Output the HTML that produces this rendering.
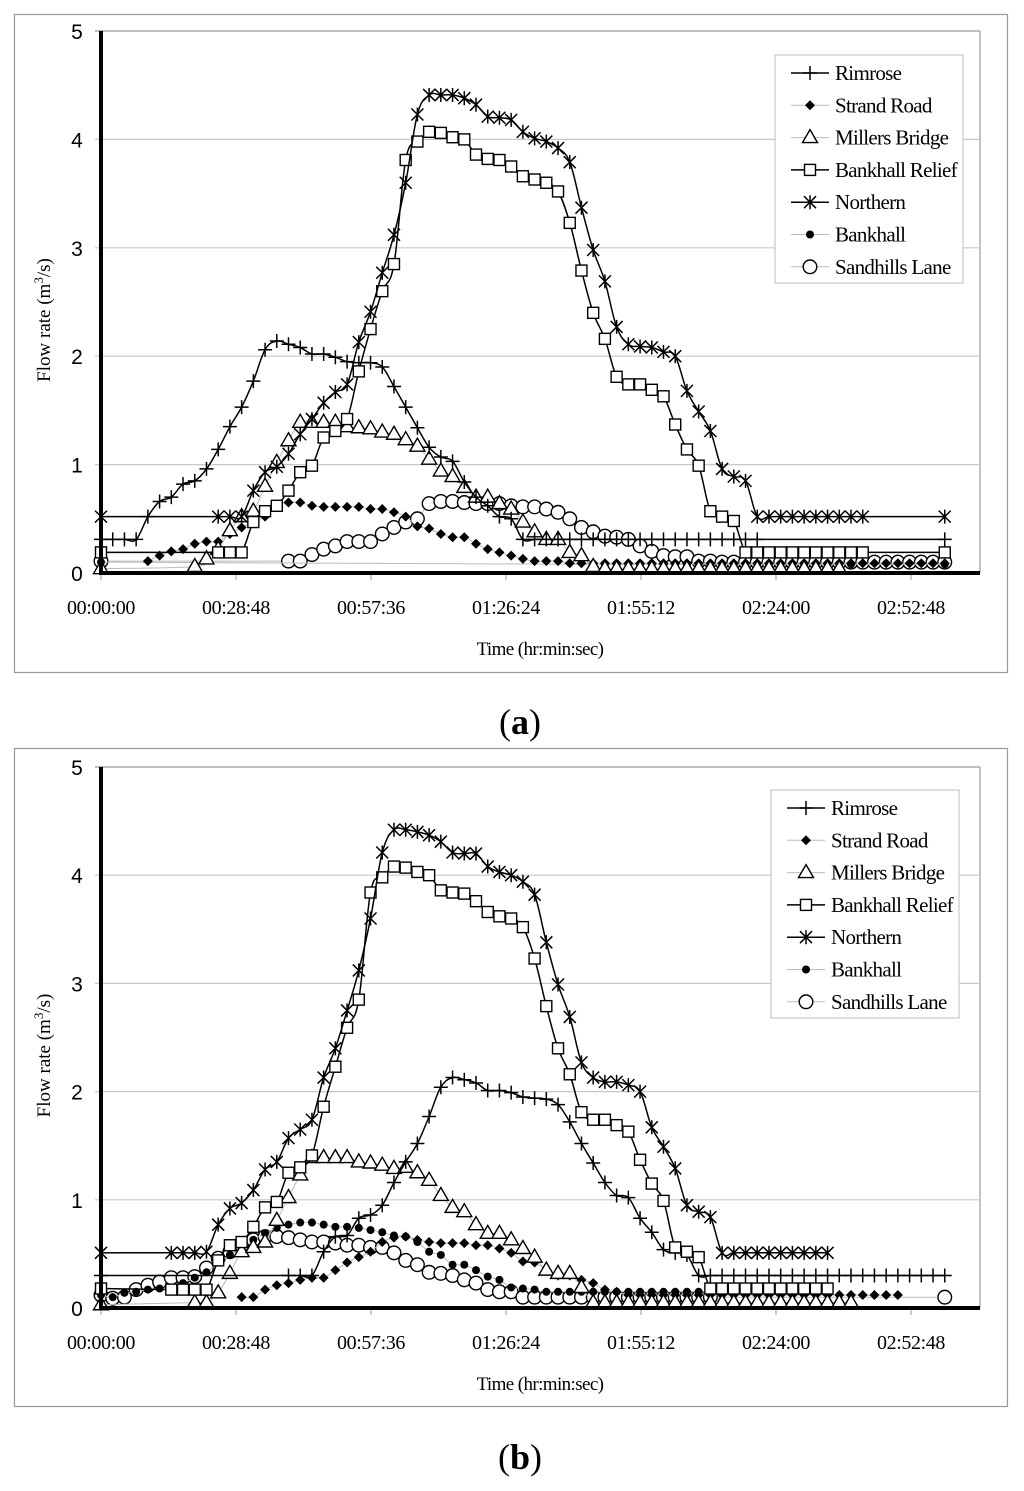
<!DOCTYPE html>
<html><head><meta charset="utf-8"><style>
html,body{margin:0;padding:0;background:#fff;}
svg{display:block;}
</style></head><body>
<svg id="fig" xmlns="http://www.w3.org/2000/svg" width="1024" height="1491" viewBox="0 0 1024 1491"></svg>
<script>
// Time axis: each step = 2.5 minutes. Pairs are [step, flow rate m3/s]
const timeTickLabels = ["00:00:00","00:28:48","00:57:36","01:26:24","01:55:12","02:24:00","02:52:48"];
const timeTickMinutes = [0, 28.8, 57.6, 86.4, 115.2, 144, 172.8];
const yTickLabels = ["0","1","2","3","4","5"];
const yTickValues = [0,1,2,3,4,5];
const seriesNames = ["Rimrose","Strand Road","Millers Bridge","Bankhall Relief","Northern","Bankhall","Sandhills Lane"];
const stepMinutes = 2.5;

// ---- Panel (a) ----
const rimroseA = [[0,.31],[1,.31],[2,.31],[3,.31],[4,.52],[5,.66],[6,.70],[7,.82],[8,.85],[9,.96],[10,1.14],[11,1.35],[12,1.53],[13,1.77],[14,2.06],[15,2.14],[16,2.11],[17,2.08],[18,2.02],[19,2.02],[20,1.99],[21,1.95],[22,1.94],[23,1.94],[24,1.90],[25,1.72],[26,1.53],[27,1.34],[28,1.16],[29,1.07],[30,1.03],[31,.84],[32,.70],[33,.62],[34,.52],[35,.50],[36,.31],[37,.31],[38,.31],[39,.31],[40,.31],[41,.31],[42,.31],[43,.31],[44,.31],[45,.31],[46,.31],[47,.31],[48,.31],[49,.31],[50,.31],[51,.31],[52,.31],[53,.31],[54,.31],[55,.31],[56,.31],[72,.31]];
const strandA = [[4,.11],[5,.16],[6,.20],[7,.22],[8,.27],[9,.29],[10,.29],[11,.36],[12,.42],[13,.47],[14,.52],[15,.62],[16,.65],[17,.65],[18,.62],[19,.61],[20,.61],[21,.61],[22,.61],[23,.59],[24,.59],[25,.56],[26,.52],[27,.43],[28,.41],[29,.36],[30,.33],[31,.33],[32,.27],[33,.22],[34,.19],[35,.16],[36,.13],[37,.11],[38,.11],[39,.11],[40,.09],[41,.09],[42,.09],[43,.09],[44,.09],[45,.09],[46,.09],[47,.09],[48,.09],[49,.09],[50,.09],[51,.09],[52,.09],[53,.09],[54,.09],[55,.09],[56,.09],[57,.09],[58,.09],[59,.09],[60,.09],[61,.09],[62,.09],[63,.09],[64,.09],[65,.09],[66,.09],[67,.09],[68,.09],[69,.09],[70,.09],[71,.09],[72,.09]];
const millersA = [[0,.04],[8,.06],[9,.13],[10,.22],[11,.39],[12,.52],[13,.57],[14,.80],[15,1.02],[16,1.22],[17,1.39],[18,1.39],[19,1.39],[20,1.39],[21,1.35],[22,1.34],[23,1.33],[24,1.30],[25,1.28],[26,1.23],[27,1.17],[28,1.05],[29,.94],[30,.89],[31,.79],[32,.70],[33,.70],[34,.64],[35,.59],[36,.47],[37,.38],[38,.31],[39,.31],[40,.19],[41,.16],[42,.06],[43,.04],[44,.04],[45,.04],[46,.04],[47,.04],[48,.04],[49,.04],[50,.04],[51,.04],[52,.04],[53,.04],[54,.04],[55,.04],[56,.04],[57,.04],[58,.04],[59,.04],[60,.04],[61,.04],[62,.04],[63,.04]];
const reliefA = [[0,.19],[10,.19],[11,.19],[12,.19],[13,.47],[14,.57],[15,.62],[16,.76],[17,.93],[18,.99],[19,1.25],[20,1.31],[21,1.42],[22,1.86],[23,2.25],[24,2.60],[25,2.85],[26,3.81],[27,3.98],[28,4.07],[29,4.06],[30,4.02],[31,4.00],[32,3.86],[33,3.82],[34,3.81],[35,3.75],[36,3.66],[37,3.63],[38,3.60],[39,3.52],[40,3.23],[41,2.79],[42,2.40],[43,2.16],[44,1.81],[45,1.74],[46,1.74],[47,1.69],[48,1.63],[49,1.37],[50,1.14],[51,.99],[52,.57],[53,.52],[54,.48],[55,.19],[56,.19],[57,.19],[58,.19],[59,.19],[60,.19],[61,.19],[62,.19],[63,.19],[64,.19],[65,.19],[72,.19]];
const northernA = [[0,.52],[10,.52],[11,.52],[12,.52],[13,.76],[14,.93],[15,.98],[16,1.10],[17,1.28],[18,1.42],[19,1.57],[20,1.67],[21,1.74],[22,2.13],[23,2.41],[24,2.77],[25,3.12],[26,3.60],[27,4.23],[28,4.41],[29,4.41],[30,4.41],[31,4.38],[32,4.32],[33,4.21],[34,4.20],[35,4.18],[36,4.07],[37,4.01],[38,3.98],[39,3.92],[40,3.79],[41,3.37],[42,2.98],[43,2.69],[44,2.27],[45,2.11],[46,2.09],[47,2.08],[48,2.04],[49,2.00],[50,1.68],[51,1.49],[52,1.31],[53,.96],[54,.89],[55,.85],[56,.52],[57,.52],[58,.52],[59,.52],[60,.52],[61,.52],[62,.52],[63,.52],[64,.52],[65,.52],[72,.52]];
const bankhallA = [[0,.10],[42,.08],[43,.08],[44,.08],[45,.08],[46,.08],[47,.08],[48,.08],[49,.08],[50,.08],[51,.08],[52,.08],[53,.08],[54,.08],[55,.08],[56,.08],[57,.08],[58,.08],[59,.08],[60,.08],[61,.08],[62,.08],[63,.08],[64,.08],[72,.08]];
const sandhillsA = [[0,.11],[16,.11],[17,.11],[18,.17],[19,.22],[20,.25],[21,.29],[22,.29],[23,.29],[24,.36],[25,.42],[26,.47],[27,.50],[28,.64],[29,.66],[30,.66],[31,.65],[32,.64],[33,.64],[34,.64],[35,.62],[36,.61],[37,.61],[38,.59],[39,.56],[40,.50],[41,.42],[42,.38],[43,.34],[44,.33],[45,.31],[46,.25],[47,.20],[48,.16],[49,.15],[50,.15],[51,.11],[52,.11],[53,.10],[54,.10],[55,.10],[56,.10],[57,.10],[58,.10],[59,.10],[60,.10],[61,.10],[62,.10],[63,.10],[64,.10],[65,.10],[66,.10],[67,.10],[68,.10],[69,.10],[70,.10],[71,.10],[72,.10]];

// ---- Panel (b) ----
const rimroseB = [[0,.30],[16,.30],[17,.30],[18,.30],[19,.52],[20,.66],[21,.67],[22,.83],[23,.86],[24,.95],[25,1.16],[26,1.35],[27,1.52],[28,1.77],[29,2.04],[30,2.13],[31,2.11],[32,2.08],[33,2.01],[34,2.01],[35,1.99],[36,1.95],[37,1.94],[38,1.93],[39,1.88],[40,1.72],[41,1.52],[42,1.34],[43,1.16],[44,1.04],[45,1.02],[46,.83],[47,.70],[48,.54],[49,.51],[50,.49],[51,.30],[52,.30],[53,.30],[54,.30],[55,.30],[56,.30],[57,.30],[58,.30],[59,.30],[60,.30],[61,.30],[62,.30],[63,.30],[64,.30],[65,.30],[66,.30],[67,.30],[68,.30],[69,.30],[70,.30],[71,.30],[72,.30]];
const strandB = [[12,.10],[13,.10],[14,.17],[15,.21],[16,.23],[17,.26],[18,.28],[19,.28],[20,.35],[21,.42],[22,.47],[23,.52],[24,.61],[25,.65],[26,.66],[27,.63],[28,.61],[29,.60],[30,.60],[31,.60],[32,.58],[33,.58],[34,.55],[35,.51],[36,.43],[37,.42],[38,.35],[39,.30],[40,.30],[41,.26],[42,.23],[43,.17],[44,.15],[45,.12],[46,.12],[47,.12],[48,.12],[49,.12],[50,.12],[51,.12],[52,.12],[53,.12],[54,.12],[55,.12],[56,.12],[57,.12],[58,.12],[59,.12],[60,.12],[61,.12],[62,.12],[63,.12],[64,.12],[65,.12],[66,.12],[67,.12],[68,.12]];
const millersB = [[0,.03],[8,.05],[9,.05],[10,.14],[11,.32],[12,.52],[13,.56],[14,.61],[15,.81],[16,1.02],[17,1.23],[18,1.39],[19,1.39],[20,1.39],[21,1.39],[22,1.35],[23,1.34],[24,1.32],[25,1.29],[26,1.30],[27,1.25],[28,1.18],[29,1.04],[30,.93],[31,.89],[32,.77],[33,.69],[34,.69],[35,.63],[36,.55],[37,.47],[38,.35],[39,.32],[40,.32],[41,.19],[42,.05],[43,.05],[44,.05],[45,.05],[46,.05],[47,.05],[48,.05],[49,.05],[50,.05],[51,.05],[52,.05],[53,.05],[54,.05],[55,.05],[56,.05],[57,.05],[58,.05],[59,.05],[60,.05],[61,.05],[62,.05],[63,.05],[64,.05]];
const reliefB = [[0,.18],[6,.17],[7,.17],[8,.17],[9,.17],[10,.44],[11,.58],[12,.61],[13,.75],[14,.93],[15,.98],[16,1.25],[17,1.30],[18,1.41],[19,1.86],[20,2.23],[21,2.59],[22,2.85],[23,3.84],[24,3.98],[25,4.08],[26,4.07],[27,4.03],[28,4.00],[29,3.86],[30,3.84],[31,3.83],[32,3.76],[33,3.66],[34,3.62],[35,3.60],[36,3.52],[37,3.23],[38,2.79],[39,2.40],[40,2.16],[41,1.81],[42,1.74],[43,1.74],[44,1.69],[45,1.63],[46,1.37],[47,1.15],[48,.99],[49,.56],[50,.52],[51,.47],[52,.18],[53,.18],[54,.18],[55,.18],[56,.18],[57,.18],[58,.18],[59,.18],[60,.18],[61,.18],[62,.18]];
const northernB = [[0,.51],[6,.51],[7,.51],[8,.51],[9,.52],[10,.77],[11,.92],[12,.97],[13,1.09],[14,1.28],[15,1.35],[16,1.57],[17,1.65],[18,1.74],[19,2.13],[20,2.40],[21,2.75],[22,3.12],[23,3.60],[24,4.21],[25,4.42],[26,4.42],[27,4.40],[28,4.37],[29,4.31],[30,4.21],[31,4.20],[32,4.20],[33,4.08],[34,4.03],[35,4.00],[36,3.94],[37,3.82],[38,3.38],[39,2.99],[40,2.69],[41,2.27],[42,2.13],[43,2.09],[44,2.09],[45,2.06],[46,2.00],[47,1.67],[48,1.49],[49,1.29],[50,.95],[51,.89],[52,.84],[53,.51],[54,.51],[55,.51],[56,.51],[57,.51],[58,.51],[59,.51],[60,.51],[61,.51],[62,.51]];
const bankhallB = [[0,.12],[1,.10],[2,.14],[3,.15],[4,.17],[5,.18],[6,.19],[7,.23],[8,.28],[9,.33],[10,.42],[11,.49],[12,.55],[13,.63],[14,.69],[15,.74],[16,.77],[17,.79],[18,.79],[19,.77],[20,.75],[21,.75],[22,.74],[23,.72],[24,.70],[25,.67],[26,.66],[27,.61],[28,.52],[29,.49],[30,.40],[31,.40],[32,.35],[33,.29],[34,.26],[35,.19],[36,.18],[37,.17],[38,.15],[39,.15],[40,.15],[41,.15],[42,.15],[43,.15],[44,.15],[45,.15],[46,.15],[47,.15],[48,.15],[49,.15],[50,.15],[51,.15],[52,.15],[53,.15],[54,.15],[55,.15],[56,.15],[57,.15],[58,.15],[59,.15],[60,.15],[61,.15],[62,.15]];
const sandhillsB = [[0,.12],[1,.09],[2,.10],[3,.17],[4,.21],[5,.24],[6,.28],[7,.28],[8,.29],[9,.37],[10,.46],[11,.52],[12,.58],[13,.63],[14,.66],[15,.66],[16,.65],[17,.63],[18,.61],[19,.61],[20,.60],[21,.58],[22,.58],[23,.56],[24,.56],[25,.51],[26,.44],[27,.40],[28,.33],[29,.32],[30,.30],[31,.26],[32,.23],[33,.17],[34,.15],[35,.15],[36,.10],[37,.10],[38,.10],[39,.10],[40,.10],[41,.10],[42,.10],[43,.10],[44,.10],[45,.10],[46,.10],[47,.10],[48,.10],[49,.10],[50,.10],[51,.10],[52,.10],[72,.10]];

const NS = "http://www.w3.org/2000/svg";
const svg = document.getElementById('fig');
function mk(tag, attrs, parent){
  const e = document.createElementNS(NS, tag);
  for (const k in attrs) e.setAttribute(k, attrs[k]);
  (parent||svg).appendChild(e);
  return e;
}
const styles = [
  {marker:'plus', line:'#000', lw:1.5},
  {marker:'diamond', line:'#bbb', lw:1},
  {marker:'triangle', line:'#bbb', lw:1},
  {marker:'square', line:'#000', lw:1.5},
  {marker:'star', line:'#000', lw:1.5},
  {marker:'dot', line:'#bbb', lw:1},
  {marker:'circle', line:'#bbb', lw:1}
];
function drawMarker(g, type, x, y){
  let m;
  if (type==='plus'){
    m = mk('path',{d:`M${x-7} ${y}H${x+7}M${x} ${y-7}V${y+7}`,stroke:'#000','stroke-width':1.5,fill:'none'},g);
  } else if (type==='diamond'){
    m = mk('path',{d:`M${x} ${y-5}L${x+5} ${y}L${x} ${y+5}L${x-5} ${y}Z`,fill:'#000'},g);
  } else if (type==='triangle'){
    m = mk('path',{d:`M${x} ${y-8}L${x+7.5} ${y+5}L${x-7.5} ${y+5}Z`,fill:'#fff',stroke:'#000','stroke-width':1.4},g);
  } else if (type==='square'){
    m = mk('rect',{x:x-5.5,y:y-5.5,width:11,height:11,fill:'#fff',stroke:'#000','stroke-width':1.4},g);
  } else if (type==='star'){
    m = mk('path',{d:`M${x-6} ${y-6}L${x+6} ${y+6}M${x-6} ${y+6}L${x+6} ${y-6}M${x} ${y-7}V${y+7}`,stroke:'#000','stroke-width':1.5,fill:'none'},g);
  } else if (type==='dot'){
    m = mk('circle',{cx:x,cy:y,r:4,fill:'#000'},g);
  } else {
    m = mk('circle',{cx:x,cy:y,r:6.8,fill:'#fff',stroke:'#000','stroke-width':1.4},g);
  }
  return m;
}
function smoothPath(pts){
  if (pts.length<2) return '';
  let d = `M${pts[0][0]} ${pts[0][1]}`;
  for (let i=0;i<pts.length-1;i++){
    const p0=pts[i-1]||pts[i], p1=pts[i], p2=pts[i+1], p3=pts[i+2]||p2;
    const t=0.18;
    const c1x=p1[0]+(p2[0]-p0[0])*t, c1y=p1[1]+(p2[1]-p0[1])*t;
    const c2x=p2[0]-(p3[0]-p1[0])*t, c2y=p2[1]-(p3[1]-p1[1])*t;
    d += ` C${c1x.toFixed(1)} ${c1y.toFixed(1)} ${c2x.toFixed(1)} ${c2y.toFixed(1)} ${p2[0].toFixed(1)} ${p2[1].toFixed(1)}`;
  }
  return d;
}

function drawPanel(cfg, data, tag){
  const g = mk('g',{});
  
  
  const X = m => cfg.x0 + m * cfg.pxPerMin;
  const Y = v => cfg.y0 - v * cfg.pxPerUnit;
  const frame = mk('rect',{x:cfg.fx, y:cfg.fy, width:cfg.fw, height:cfg.fh, fill:'#fff', stroke:'#999','stroke-width':1.2},g);
  
  
  mk('line',{x1:cfg.xr,y1:Y(5),x2:cfg.xr,y2:cfg.y0,stroke:'#999','stroke-width':1.2},g);
  yTickValues.forEach((v,i)=>{
    if (v>0){
      const gl = mk('line',{x1:cfg.x0-6,y1:Y(v),x2:cfg.xr,y2:Y(v),stroke:v===5?'#999':'#c8c8c8','stroke-width':1.2},g);
      
      
    }
    const t = mk('text',{x:77,y:Y(v)+8,'text-anchor':'middle','font-family':'"Liberation Sans",sans-serif','font-size':21,fill:'#000'},g);
    t.textContent = yTickLabels[i];
    
    
  });
  timeTickMinutes.forEach((m,i)=>{
    mk('line',{x1:X(m),y1:cfg.y0,x2:X(m),y2:cfg.y0+7,stroke:'#aaa','stroke-width':1.2},g);
    const t = mk('text',{x:X(m),y:cfg.y0+41,'text-anchor':'middle','font-family':'"Liberation Serif",serif','font-size':20,fill:'#000','letter-spacing':'-0.4'},g);
    t.textContent = timeTickLabels[i];
    
    
  });
  const order = [6,5,1,2,0,3,4];
  order.forEach(si=>{
    const st = styles[si];
    const sg = mk('g',{},g);
    
    
    const pts = data[si].map(p=>[X(p[0]*stepMinutes), Y(p[1])]);
    const ln = mk('path',{d:smoothPath(pts),fill:'none',stroke:st.line,'stroke-width':st.lw},sg);
    
    
    pts.forEach(p=>{
      const mm = drawMarker(sg, st.marker, p[0], p[1]);
      
      
    });
  });
  const ya = mk('line',{x1:cfg.x0,y1:Y(5),x2:cfg.x0,y2:cfg.y0+2,stroke:'#000','stroke-width':4},g);
  
  
  const xa = mk('line',{x1:cfg.x0,y1:cfg.y0,x2:cfg.xr,y2:cfg.y0,stroke:'#000','stroke-width':4},g);
  
  
  const xt = mk('text',{x:540,y:cfg.y0+82,'text-anchor':'middle','font-family':'"Liberation Serif",serif','font-size':19,fill:'#000','letter-spacing':'-0.6'},g);
  xt.textContent = 'Time (hr:min:sec)';
  
  
  const ymid = (Y(5)+cfg.y0)/2 + 18;
  const yt = mk('text',{x:0,y:0,transform:`translate(50 ${ymid}) rotate(-90)`,'text-anchor':'middle','font-family':'"Liberation Serif",serif','font-size':19,fill:'#000'},g);
  
  
  yt.appendChild(document.createTextNode('Flow rate (m'));
  const sup = mk('tspan',{dy:-7,'font-size':13},yt);
  sup.textContent = '3';
  const rest = mk('tspan',{dy:7},yt);
  rest.textContent = '/s)';
  const lg = mk('g',{},g);
  
  
  mk('rect',{x:cfg.lx,y:cfg.ly,width:188,height:228,fill:'#fff',stroke:'#c8c8c8','stroke-width':1.2},lg);
  seriesNames.forEach((nm,i)=>{
    const st = styles[i];
    const ey = cfg.ly + 18 + i*32.3;
    const eg = mk('g',{},lg);
    
    
    mk('line',{x1:cfg.lx+16,y1:ey,x2:cfg.lx+54,y2:ey,stroke:st.line,'stroke-width':st.lw},eg);
    drawMarker(eg, st.marker, cfg.lx+35, ey);
    const t = mk('text',{x:cfg.lx+60,y:ey+7,'font-family':'"Liberation Serif",serif','font-size':21,fill:'#000','letter-spacing':'-0.7'},eg);
    t.textContent = nm;
  });
  const pl = mk('text',{x:520,y:cfg.labelY,'text-anchor':'middle','font-family':'"Liberation Serif",serif','font-size':36,fill:'#000'},g);
  
  
  pl.appendChild(document.createTextNode('('));
  const b = mk('tspan',{'font-weight':'bold'},pl); b.textContent = tag;
  pl.appendChild(document.createTextNode(')'));
}

drawPanel({x0:101, pxPerMin:4.6875, y0:573, pxPerUnit:108.4, xr:980, fx:14.5, fy:14.5, fw:993, fh:658, lx:775, ly:55, labelY:734},
  [rimroseA, strandA, millersA, reliefA, northernA, bankhallA, sandhillsA], 'a');
drawPanel({x0:101, pxPerMin:4.6875, y0:1308, pxPerUnit:108.2, xr:980, fx:14.5, fy:748.5, fw:993, fh:658, lx:771, ly:790, labelY:1469},
  [rimroseB, strandB, millersB, reliefB, northernB, bankhallB, sandhillsB], 'b');
</script>
</body></html>
